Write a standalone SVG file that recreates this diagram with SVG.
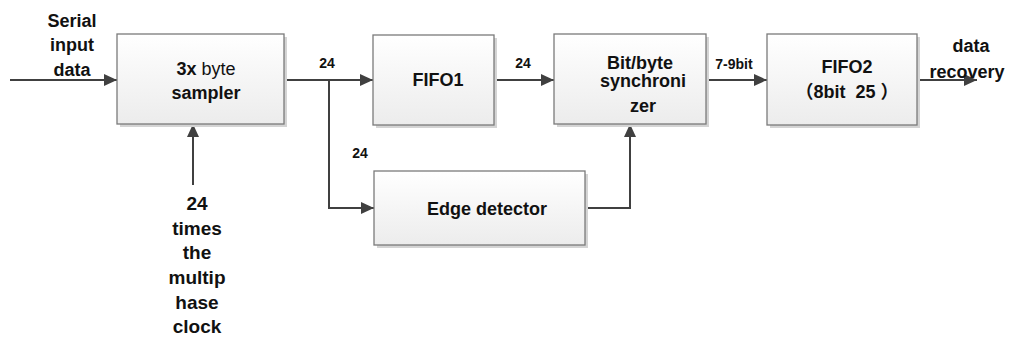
<svg xmlns="http://www.w3.org/2000/svg" width="1013" height="340" viewBox="0 0 1013 340">
<style>
.box{fill:url(#g);stroke:#7a7a7a;stroke-width:1.3}
.sh{fill:#d4d4d4}
.ln{fill:none;stroke:#404040;stroke-width:2;marker-end:url(#ah)}
text{font-family:"Liberation Sans","Noto Sans CJK SC",sans-serif;font-weight:bold;fill:#111;text-anchor:middle}
.t{font-size:18px}
.c{font-size:19px}
.s{font-size:14px}
.n{font-weight:normal}
.pre{white-space:pre}
</style>
<defs>
<linearGradient id="g" x1="0" y1="0" x2="0" y2="1">
<stop offset="0" stop-color="#ffffff"/>
<stop offset="1" stop-color="#ececec"/>
</linearGradient>
<marker id="ah" markerUnits="userSpaceOnUse" markerWidth="14" markerHeight="12" refX="13" refY="6" orient="auto">
<path d="M0,0 L13,6 L0,12 Z" fill="#404040"/>
</marker>
</defs>
<g id="connectors">
<path class="ln" d="M10,80 H117"/>
<path class="ln" d="M284,80 H373"/>
<path class="ln" d="M329,80 V208 H374"/>
<path class="ln" d="M494,80 H554"/>
<path class="ln" d="M585,208 H630 V124"/>
<path class="ln" d="M706,80 H767"/>
<path class="ln" d="M917,80 H977"/>
<path class="ln" d="M193,185 V124"/>
</g>
<g id="labels">
<text class="t" x="72" y="27">Serial</text>
<text class="t" x="72" y="51">input</text>
<text class="t" x="72" y="76">data</text>
<text class="s" x="327" y="68">24</text>
<text class="s" x="523" y="68">24</text>
<text class="s" x="360" y="158">24</text>
<text class="s" x="734" y="69">7-9bit</text>
<text class="t" x="971" y="52">data</text>
<text class="t" x="967" y="78">recovery</text>
<text class="c" x="197" y="210">24</text>
<text class="c" x="197" y="235">times</text>
<text class="c" x="197" y="259">the</text>
<text class="c" x="197" y="284">multip</text>
<text class="c" x="197" y="309">hase</text>
<text class="c" x="197" y="333">clock</text>
</g>
<g id="sampler">
<rect class="sh" x="120" y="37" width="167" height="90"/>
<rect class="box" x="117" y="34" width="167" height="90"/>
<text class="t" x="206" y="75">3x<tspan class="n"> byte</tspan></text>
<text class="t" x="206" y="99">sampler</text>
</g>
<g id="fifo1">
<rect class="sh" x="376" y="38" width="121" height="90"/>
<rect class="box" x="373" y="35" width="121" height="90"/>
<text class="t" x="438" y="86">FIFO1</text>
</g>
<g id="synchronizer">
<rect class="sh" x="557" y="37" width="152" height="90"/>
<rect class="box" x="554" y="34" width="152" height="90"/>
<text class="t" x="640" y="69">Bit/byte</text>
<text class="t" x="643" y="87">synchroni</text>
<text class="t" x="643" y="112">zer</text>
</g>
<g id="fifo2">
<rect class="sh" x="770" y="37" width="150" height="91"/>
<rect class="box" x="767" y="34" width="150" height="91"/>
<text class="t" x="847" y="73">FIFO2</text>
<text class="t pre" x="847" y="98">（8bit  25 ）</text>
</g>
<g id="edge">
<rect class="sh" x="377" y="174" width="211" height="74"/>
<rect class="box" x="374" y="171" width="211" height="74"/>
<text class="t" x="487" y="215">Edge detector</text>
</g>
</svg>
